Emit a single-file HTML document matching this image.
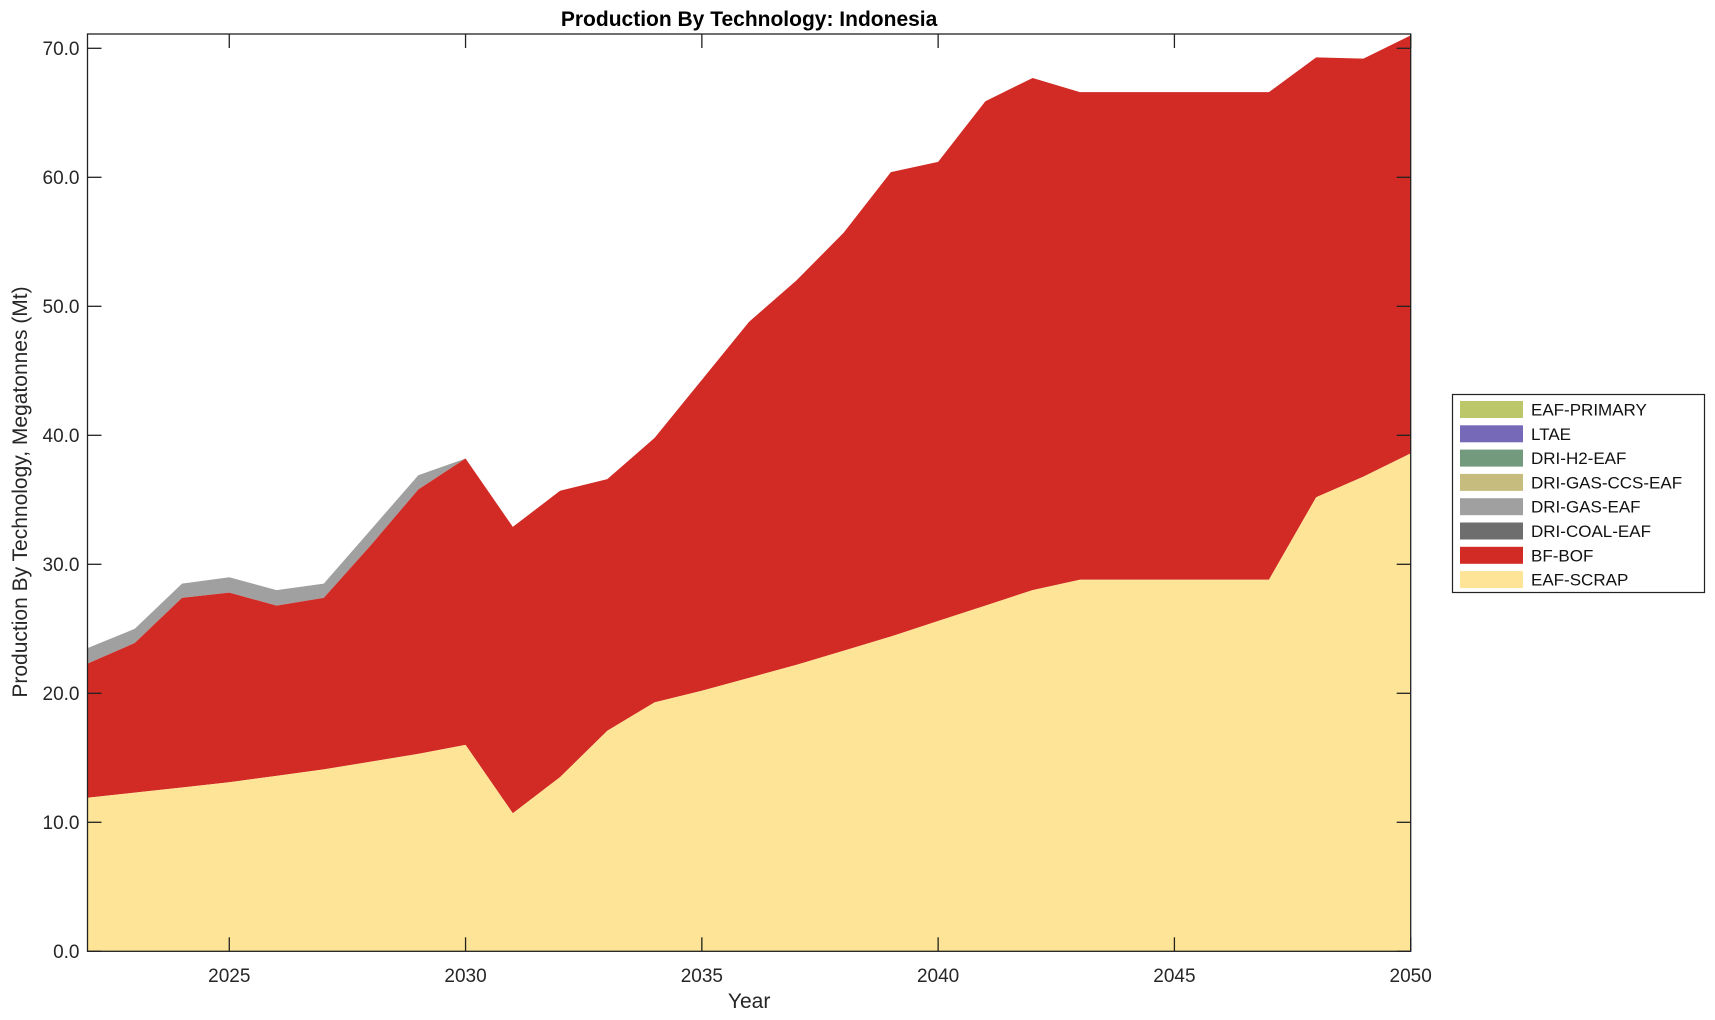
<!DOCTYPE html>
<html><head><meta charset="utf-8"><style>
body{margin:0;background:#fff;}
svg{display:block;font-family:"Liberation Sans",Arial,sans-serif;}
</style></head><body>
<svg id="s" width="1715" height="1020" xmlns="http://www.w3.org/2000/svg"></svg>
<script>
const X0=87.5,X1=1410.7,Y0=951.3,PU=12.9;
const scrap=[11.9,12.3,12.7,13.1,13.6,14.1,14.7,15.3,16.0,10.7,13.5,17.1,19.3,20.2,21.2,22.2,23.3,24.4,25.6,26.8,28.0,28.8,28.8,28.8,28.8,28.8,35.2,36.8,38.6];
const red=[22.3,23.9,27.4,27.8,26.8,27.4,31.5,35.8,38.2,32.9,35.7,36.6,39.8,44.3,48.8,52.0,55.7,60.4,61.2,65.9,67.7,66.6,66.6,66.6,66.6,66.6,69.3,69.2,71.0];
const gray=[23.5,25.0,28.5,29.0,28.0,28.5,32.7,36.9,38.2];
const px=y=>X0+(y-2022)*(X1-X0)/28, py=v=>Y0-v*PU;
let h='';
function poly(top,bot,c){let p=[];for(let i=0;i<top.length;i++)p.push(px(2022+i)+','+py(top[i]));for(let i=bot.length-1;i>=0;i--)p.push(px(2022+i)+','+py(bot[i]));h+=`<polygon points="${p.join(' ')}" fill="${c}"/>`;}
poly(gray,red.slice(0,9),'#a0a0a0');
poly(red,scrap,'#d22b25');
poly(scrap,scrap.map(()=>0),'#fee496');
h+=`<rect x="${X0}" y="34" width="${X1-X0}" height="${Y0-34}" fill="none" stroke="#222" stroke-width="1.3"/>`;
for(let v=0;v<=70;v+=10){const y=py(v);h+=`<line x1="${X0}" y1="${y}" x2="${X0+14}" y2="${y}" stroke="#222" stroke-width="1.3"/><line x1="${X1}" y1="${y}" x2="${X1-14}" y2="${y}" stroke="#222" stroke-width="1.3"/><text x="${X0-8}" y="${y+6.5}" text-anchor="end" font-size="19" fill="#262626">${v.toFixed(1)}</text>`;}
for(let yr=2025;yr<=2050;yr+=5){const x=px(yr);h+=`<line x1="${x}" y1="${Y0}" x2="${x}" y2="${Y0-14}" stroke="#222" stroke-width="1.3"/><line x1="${x}" y1="34" x2="${x}" y2="48" stroke="#222" stroke-width="1.3"/><text x="${x}" y="982" text-anchor="middle" font-size="19" fill="#262626">${yr}</text>`;}
h+=`<text x="${(X0+X1)/2}" y="1008" text-anchor="middle" font-size="21" fill="#262626">Year</text>`;
h+=`<text transform="translate(27,492) rotate(-90)" text-anchor="middle" font-size="21" fill="#262626">Production By Technology, Megatonnes (Mt)</text>`;
h+=`<text x="${(X0+X1)/2}" y="26" text-anchor="middle" font-size="21" font-weight="bold" fill="#000">Production By Technology: Indonesia</text>`;
h+=`<rect x="1452.5" y="394.5" width="252" height="198" fill="#fff" stroke="#222" stroke-width="1.2"/>`;
const L=[['EAF-PRIMARY','#bcc76a'],['LTAE','#7569b8'],['DRI-H2-EAF','#739a7c'],['DRI-GAS-CCS-EAF','#c6bc7e'],['DRI-GAS-EAF','#a0a0a0'],['DRI-COAL-EAF','#6e6e6e'],['BF-BOF','#d22b25'],['EAF-SCRAP','#fee496']];
L.forEach((l,i)=>{const cy=409.5+i*24.3;h+=`<rect x="1460" y="${cy-8.5}" width="63" height="17" fill="${l[1]}"/><text x="1531" y="${cy+6}" font-size="17" fill="#111">${l[0]}</text>`;});
document.getElementById('s').innerHTML=h;
</script>
</body></html>
